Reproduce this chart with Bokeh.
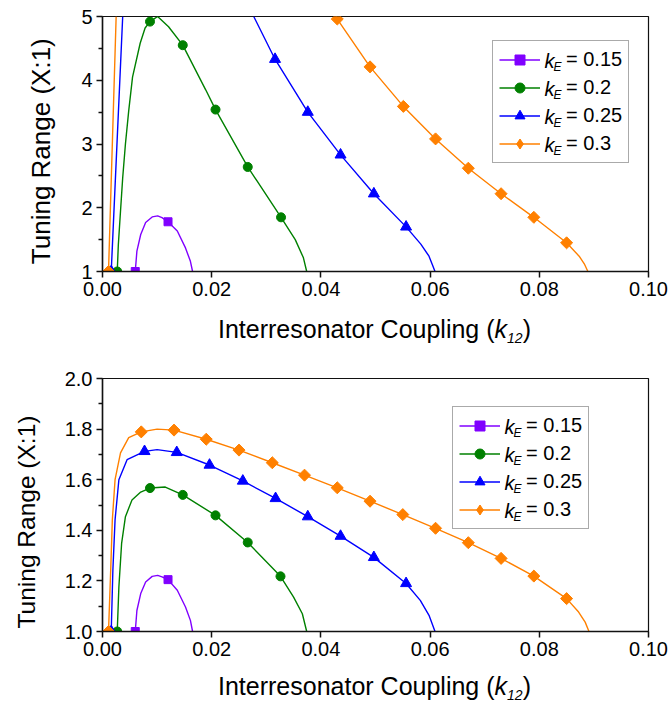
import math
from bokeh.plotting import figure
from bokeh.models import Range1d, FixedTicker, Legend, LegendItem, Label, Div
from bokeh.layouts import column
from bokeh.embed import file_html
from bokeh.resources import INLINE

NAN = float("nan")

# ---------------- data ----------------
series_names = ["0.15", "0.2", "0.25", "0.3"]
series_colors = ["#8000FF", "#008000", "#0000FF", "#FF8000"]

y_axis_title = "Tuning Range (X:1)"
x_axis_title = "Interresonator Coupling"

x_ticks = [0.0, 0.02, 0.04, 0.06, 0.08, 0.10]
x_tick_labels = ["0.00", "0.02", "0.04", "0.06", "0.08", "0.10"]

top_y_ticks = [1, 2, 3, 4, 5]
top_y_minor = [1.5, 2.5, 3.5, 4.5]
top_y_tick_labels = ["1", "2", "3", "4", "5"]

bot_y_ticks = [1.0, 1.2, 1.4, 1.6, 1.8, 2.0]
bot_y_minor = [1.1, 1.3, 1.5, 1.7, 1.9]
bot_y_tick_labels = ["1.0", "1.2", "1.4", "1.6", "1.8", "2.0"]

# top panel curves
top_015_x = [0.0060, 0.0063, 0.0070, 0.0079, 0.0091, 0.0101, 0.0109, 0.0120, 0.0137, 0.0152, 0.0161, 0.0165]
top_015_y = [1.00, 1.32, 1.58, 1.77, 1.856, 1.872, 1.845, 1.78, 1.636, 1.37, 1.16, 1.00]
top_020_x = [0.0027, 0.0029, 0.0033, 0.0037, 0.0042, 0.0048, 0.0055, 0.0069, 0.0078, 0.0087, 0.0101,
             0.0121, 0.0147, 0.0189, 0.0207, 0.0266, 0.0283, 0.0327, 0.0353, 0.0368, 0.0374]
top_020_y = [1.00, 1.42, 1.95, 2.47, 3.00, 3.52, 4.05, 4.58, 4.82, 4.92, 5.00,
             4.84, 4.55, 3.85, 3.54, 2.64, 2.42, 1.85, 1.50, 1.215, 1.00]
top_025_x = [0.0016, 0.0037, NAN, 0.0277, 0.0316, 0.0376, 0.0436, 0.0497, 0.0556, 0.0583, 0.0598, 0.0604, 0.0609]
top_025_y = [1.00, 5.00, NAN, 5.00, 4.33, 3.50, 2.83, 2.22, 1.70, 1.43, 1.24, 1.11, 1.00]
top_030_x = [0.0011, 0.0025, NAN, 0.0427, 0.0430, 0.0490, 0.0551, 0.0610, 0.0670, 0.0730, 0.0790, 0.0850,
             0.0873, 0.0883, 0.0889]
top_030_y = [1.00, 5.00, NAN, 5.00, 4.96, 4.21, 3.59, 3.08, 2.62, 2.22, 1.85, 1.45, 1.24, 1.11, 1.00]

# top panel markers
top_015_mx = [0.0060, 0.0120]
top_015_my = [1.0, 1.78]
top_020_mx = [0.0027, 0.0087, 0.0147, 0.0207, 0.0266, 0.0327]
top_020_my = [1.0, 4.92, 4.55, 3.54, 2.64, 1.85]
top_025_mx = [0.0016, 0.0316, 0.0376, 0.0436, 0.0497, 0.0556]
top_025_my = [1.0, 4.33, 3.50, 2.83, 2.22, 1.70]
top_030_mx = [0.0011, 0.0430, 0.0490, 0.0551, 0.0610, 0.0670, 0.0730, 0.0790, 0.0850]
top_030_my = [1.0, 4.96, 4.21, 3.59, 3.08, 2.62, 2.22, 1.85, 1.45]

# bottom panel curves
bot_015_x = [0.0060, 0.0063, 0.0070, 0.0079, 0.0091, 0.0101, 0.0109, 0.0120, 0.0137, 0.0152, 0.0161, 0.0165]
bot_015_y = [1.000, 1.083, 1.150, 1.196, 1.218, 1.222, 1.216, 1.205, 1.163, 1.097, 1.044, 1.000]
bot_020_x = [0.0027, 0.0030, 0.0035, 0.0042, 0.0054, 0.0070, 0.0087, 0.0115, 0.0147, 0.0207, 0.0266,
             0.0326, 0.0350, 0.0366, 0.0374]
bot_020_y = [1.000, 1.176, 1.348, 1.454, 1.520, 1.551, 1.567, 1.571, 1.540, 1.459, 1.352,
             1.218, 1.136, 1.070, 1.000]
bot_025_x = [0.0016, 0.0019, 0.0023, 0.0030, 0.0045, 0.0077, 0.0100, 0.0136, 0.0196, 0.0257, 0.0317,
             0.0376, 0.0436, 0.0497, 0.0556, 0.0582, 0.0598, 0.0609]
bot_025_y = [1.000, 1.242, 1.441, 1.600, 1.679, 1.712, 1.719, 1.708, 1.658, 1.595, 1.526,
             1.454, 1.377, 1.293, 1.190, 1.123, 1.064, 1.000]
bot_030_x = [0.0011, 0.0015, 0.0018, 0.0023, 0.0033, 0.0048, 0.0071, 0.0100, 0.0131, 0.0190, 0.0250,
             0.0311, 0.0370, 0.0430, 0.0490, 0.0550, 0.0610, 0.0670, 0.0730, 0.0790, 0.0850,
             0.0872, 0.0884, 0.0891]
bot_030_y = [1.000, 1.242, 1.441, 1.600, 1.706, 1.766, 1.789, 1.800, 1.796, 1.760, 1.717,
             1.667, 1.618, 1.568, 1.515, 1.462, 1.408, 1.351, 1.289, 1.219, 1.130,
             1.077, 1.037, 1.000]

# bottom panel markers
bot_015_mx = [0.0060, 0.0120]
bot_015_my = [1.0, 1.205]
bot_020_mx = [0.0027, 0.0087, 0.0147, 0.0207, 0.0266, 0.0326]
bot_020_my = [1.0, 1.567, 1.540, 1.459, 1.352, 1.218]
bot_025_mx = [0.0016, 0.0077, 0.0136, 0.0196, 0.0257, 0.0317, 0.0376, 0.0436, 0.0497, 0.0556]
bot_025_my = [1.0, 1.712, 1.708, 1.658, 1.595, 1.526, 1.454, 1.377, 1.293, 1.190]
bot_030_mx = [0.0011, 0.0071, 0.0131, 0.0190, 0.0250, 0.0311, 0.0370, 0.0430, 0.0490, 0.0550,
              0.0610, 0.0670, 0.0730, 0.0790, 0.0850]
bot_030_my = [1.0, 1.789, 1.796, 1.760, 1.717, 1.667, 1.618, 1.568, 1.515, 1.462,
              1.408, 1.351, 1.289, 1.219, 1.130]

# ---------------- styling ----------------
FONT = "Liberation Sans"
NBSP = "\u00a0"
marker_styles = [
    dict(marker="square", size=8, angle=0.0, legend_marker="square"),
    dict(marker="circle", size=9, angle=0.0, legend_marker="circle"),
    dict(marker="triangle", size=11, angle=0.0, legend_marker="triangle"),
    dict(marker="square", size=8.5, angle=math.pi / 4, legend_marker="diamond"),
]
AXC = "#111111"


def make_panel(height, b_top, b_bottom, y_lo, y_hi, y_ticks, y_minor, y_labels,
               curves, markers, legend_loc, ylab_size, ylab_pad):
    p = figure(width=670, height=height, x_range=Range1d(0, 0.1), y_range=Range1d(y_lo, y_hi),
               output_backend="svg", toolbar_location=None,
               min_border_left=102, min_border_right=22, min_border_top=b_top, min_border_bottom=b_bottom)
    p.grid.visible = False
    p.outline_line_color = AXC
    p.outline_line_width = 1.2
    p.background_fill_color = "white"
    p.border_fill_color = "white"

    xa = p.xaxis[0]
    xa.ticker = FixedTicker(ticks=x_ticks, minor_ticks=[])
    xa.major_label_overrides = {t: l for t, l in zip(x_ticks, x_tick_labels)}
    ya = p.yaxis[0]
    ya.ticker = FixedTicker(ticks=y_ticks, minor_ticks=y_minor)
    ya.major_label_overrides = {t: l for t, l in zip(y_ticks, y_labels)}
    for ax in (xa, ya):
        ax.axis_line_color = AXC
        ax.axis_line_width = 1.5
        ax.major_tick_line_color = AXC
        ax.major_tick_line_width = 1.5
        ax.minor_tick_line_color = AXC
        ax.minor_tick_line_width = 1.5
        ax.major_tick_in = 0
        ax.major_tick_out = 6
        ax.minor_tick_in = 0
        ax.minor_tick_out = 4
        ax.major_label_text_font = FONT
        ax.major_label_text_font_size = "20px"
        ax.major_label_text_color = "black"
        ax.major_label_standoff = 4
    xa.minor_tick_out = 0
    # trailing no-break spaces nudge the (bottom-to-top) title toward the frame bottom
    ya.axis_label = y_axis_title + NBSP * ylab_pad
    ya.axis_label_text_font = FONT
    ya.axis_label_text_font_size = ylab_size
    ya.axis_label_text_font_style = "normal"
    ya.axis_label_text_color = "black"
    ya.axis_label_standoff = 22

    items = []
    for i in range(4):
        cx, cy = curves[i]
        mx, my = markers[i]
        ms = marker_styles[i]
        lr = p.line(cx, cy, line_color=series_colors[i], line_width=1.4)
        sr = p.scatter(mx, my, marker=ms["marker"], size=ms["size"], angle=ms["angle"],
                       fill_color=series_colors[i], line_color=series_colors[i])
        if ms["legend_marker"] != ms["marker"]:
            # legend sample only (legend markers are drawn unrotated); hidden in the plot
            sr = p.scatter(mx, my, marker=ms["legend_marker"], size=ms["size"],
                           fill_color=series_colors[i], line_color=series_colors[i], visible=False)
        items.append(LegendItem(label="= " + series_names[i], renderers=[lr, sr]))

    lx, ly = legend_loc
    leg = Legend(items=items, location=(lx, ly), orientation="vertical",
                 glyph_width=41, glyph_height=25, label_height=25, label_width=20,
                 spacing=3, padding=6, margin=0, label_standoff=26,
                 label_text_font=FONT, label_text_font_size="20px", label_text_color="black",
                 border_line_color="#555555", border_line_width=1,
                 background_fill_color="white", background_fill_alpha=0.0,
                 inactive_fill_alpha=0.0)
    p.add_layout(leg)

    leg_h = 6 * 2 + 25 * 4 + 3 * 3
    for i in range(4):
        cy = ly + leg_h - 6 - 12.5 - 28 * i
        p.add_layout(Label(x=lx + 52, y=cy, x_units="screen", y_units="screen", text="k",
                           text_font=FONT, text_font_style="italic", text_font_size="20px",
                           text_baseline="middle", text_align="left", text_color="black",
                           level="overlay"))
        p.add_layout(Label(x=lx + 61, y=cy - 6, x_units="screen", y_units="screen", text="E",
                           text_font=FONT, text_font_style="italic", text_font_size="12px",
                           text_baseline="middle", text_align="left", text_color="black",
                           level="overlay"))
    return p


def x_label_div(height, pad_top):
    html = ('<div style="font-family:\'Liberation Sans\'; font-size:25px; color:black; '
            'white-space:nowrap; line-height:normal; padding-left:218px; padding-top:%dpx;">'
            '%s (<i>k</i><sub style="font-size:14px; font-style:italic; '
            'vertical-align:-5px;">12</sub>)</div>' % (pad_top, x_axis_title))
    return Div(text=html, width=670, height=height, margin=0,
               styles={"font-family": "Liberation Sans", "font-size": "25px"})


top_curves = [(top_015_x, top_015_y), (top_020_x, top_020_y), (top_025_x, top_025_y), (top_030_x, top_030_y)]
top_markers = [(top_015_mx, top_015_my), (top_020_mx, top_020_my), (top_025_mx, top_025_my), (top_030_mx, top_030_my)]
bot_curves = [(bot_015_x, bot_015_y), (bot_020_x, bot_020_y), (bot_025_x, bot_025_y), (bot_030_x, bot_030_y)]
bot_markers = [(bot_015_mx, bot_015_my), (bot_020_mx, bot_020_my), (bot_025_mx, bot_025_my), (bot_030_mx, bot_030_my)]

p1 = make_panel(306, 16, 35, 1, 5, top_y_ticks, top_y_minor, top_y_tick_labels,
                top_curves, top_markers, (390, 108), "26px", 2)
d1 = x_label_div(42, 9)
p2 = make_panel(318, 30, 35, 1.0, 2.0, bot_y_ticks, bot_y_minor, bot_y_tick_labels,
                bot_curves, bot_markers, (350, 102), "24.5px", 5)
d2 = x_label_div(43, 6)

layout = column(p1, d1, p2, d2, spacing=0)
open("out.html", "w").write(file_html(layout, INLINE))
